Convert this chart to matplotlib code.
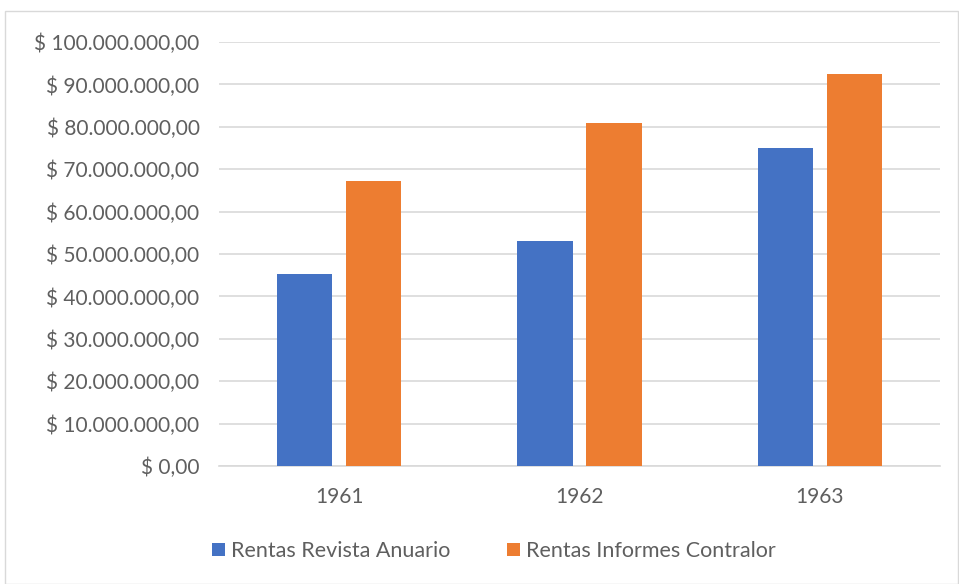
import matplotlib.pyplot as plt
import numpy as np
from matplotlib.patches import Rectangle

years = ["1961", "1962", "1963"]
rentas_anuario = [45200000, 53100000, 74900000]
rentas_contralor = [67200000, 80900000, 92500000]
series_names = ["Rentas Revista Anuario", "Rentas Informes Contralor"]

plt.rcParams["font.family"] = ["Lato", "DejaVu Sans"]
text_color = "#5f5f5f"

fig = plt.figure(figsize=(9.59, 5.84), dpi=100)
ax = fig.add_axes([219 / 959, 1 - 466 / 584, 721 / 959, 424 / 584])

x = np.arange(len(years))
w = 0.23
ax.bar(x - 0.143, rentas_anuario, w, color="#4472c4", label=series_names[0], zorder=3)
ax.bar(x + 0.143, rentas_contralor, w, color="#ed7d31", label=series_names[1], zorder=3)

ax.set_xlim(-0.5, 2.5)
ax.set_ylim(0, 100000000)
ax.set_yticks(np.arange(0, 100000001, 10000000))

def fmt(v):
    s = f"{int(v):,}".replace(",", ".")
    return f"$ {s},00"

ax.set_yticklabels([fmt(v) for v in ax.get_yticks()])
ax.set_xticks(x)
ax.set_xticklabels(years)
ax.tick_params(axis="both", length=0, labelsize=15, colors=text_color)
ax.tick_params(axis="y", pad=14)
ax.tick_params(axis="x", pad=15)
ax.grid(axis="y", color="#d9d9d9", linewidth=1.2, zorder=0)
for s in ["top", "right", "left"]:
    ax.spines[s].set_visible(False)
ax.spines["bottom"].set_color("#d9d9d9")
ax.spines["bottom"].set_linewidth(1.2)

leg = fig.legend(loc="center", bbox_to_anchor=(494 / 959, 1 - 551 / 584), ncol=2,
                 frameon=False, fontsize=15.5, handlelength=0.6, handleheight=0.6,
                 handletextpad=0.3, columnspacing=2.6)
for t in leg.get_texts():
    t.set_color(text_color)

fig.patches.append(Rectangle((5 / 959, 0), 953 / 959, 1 - 11 / 584, transform=fig.transFigure,
                             fill=False, edgecolor="#d9d9d9", linewidth=1))

fig.savefig("out.png", dpi=100)
